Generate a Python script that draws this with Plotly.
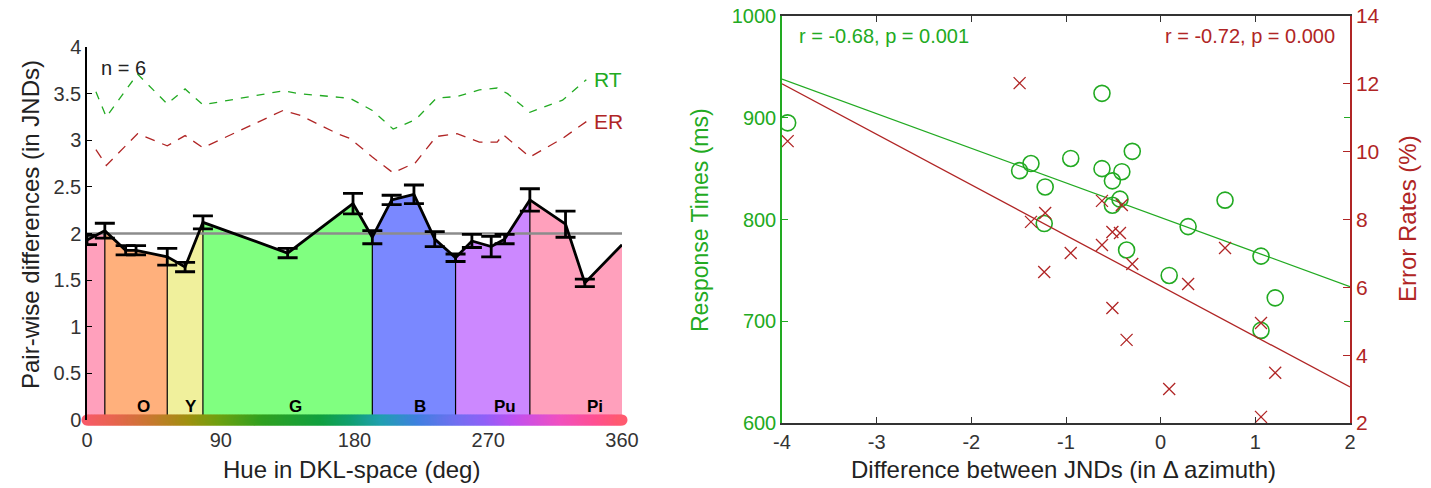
import numpy as np
import plotly.graph_objects as go

# ---------------- left panel: pair-wise differences along hue ----------------
hue_deg = [0, 12, 26, 33, 54, 66, 78, 135, 179, 192, 205, 220, 234, 248, 259, 272, 281, 298, 322, 335, 360]
pair_diff = [1.93, 2.03, 1.82, 1.82, 1.75, 1.64, 2.12, 1.79, 2.32, 1.96, 2.36, 2.42, 1.94, 1.74, 1.92, 1.86, 1.94, 2.36, 2.10, 1.47, 1.88]
pair_err = [0.05, 0.08, 0.05, 0.05, 0.09, 0.05, 0.07, 0.05, 0.11, 0.07, 0.05, 0.10, 0.08, 0.04, 0.07, 0.11, 0.05, 0.12, 0.14, 0.04]

rt_hue = [6, 13, 34, 54, 66, 78, 132, 143, 170, 177, 192, 206, 221, 235, 249, 264, 276, 283, 298, 320, 336]
rt_level = [3.52, 3.25, 3.71, 3.39, 3.55, 3.38, 3.53, 3.50, 3.46, 3.45, 3.32, 3.12, 3.22, 3.45, 3.47, 3.54, 3.56, 3.50, 3.30, 3.43, 3.65]
er_hue = [6, 13, 34, 54, 66, 78, 132, 143, 170, 177, 192, 206, 221, 235, 249, 264, 276, 280, 298, 320, 336]
er_level = [2.90, 2.73, 3.07, 2.94, 3.05, 2.92, 3.32, 3.27, 3.06, 3.02, 2.82, 2.65, 2.76, 3.04, 3.07, 2.98, 2.98, 3.06, 2.82, 3.02, 3.20]

category_edges = [0, 12, 54, 78, 192, 248, 298, 360]
category_fill = ["#ffa0bc", "#ffb07c", "#f0f09c", "#80ff80", "#7a88ff", "#cc88ff", "#ffa0bc"]
category_names = ["O", "Y", "G", "B", "Pu", "Pi"]
category_label_hue = [38, 70, 140, 224, 281, 342]
reference_level = 2.0

# hue colour strip along the x axis
strip_hue = [0, 20, 45, 70, 90, 120, 160, 180, 200, 225, 250, 270, 290, 320, 345, 360]
strip_color = ["#f85a6a", "#e86450", "#c87830", "#a09010", "#70a010", "#30a020", "#10a040",
               "#10a070", "#20a0b0", "#4080e0", "#7070f0", "#9060f8", "#c050f0", "#f050c0",
               "#ff5090", "#ff5a70"]

# ---------------- right panel: JND difference vs RT / error rate ----------------
jnd_diff = [-3.94, -1.49, -1.37, -1.22, -1.23, -0.95, -0.62, -0.62, -0.51, -0.51,
            -0.43, -0.41, -0.36, -0.30, 0.09, 0.29, 0.68, 1.06, 1.06, 1.21]
resp_time = [895, 848, 855, 832, 796, 860, 924, 850, 838, 814,
             820, 847, 770, 867, 745, 793, 819, 764, 691, 723]
error_rate = [10.31, 12.02, 7.93, 8.19, 6.45, 7.01, 8.55, 7.25, 7.63, 5.39,
              7.60, 8.43, 4.45, 6.69, 3.00, 6.10, 7.16, 4.95, 2.18, 3.48]
rt_fit = (802.0, -34.0)     # intercept, slope
er_fit = (6.04, -1.49)
fit_x = [-4, 2]

GREEN = "#22aa22"
RED = "#b02525"
FONT = "Liberation Sans, Arial, sans-serif"
W, H = 1431, 488

fig = go.Figure()

# category fills under the curve
for i in range(len(category_fill)):
    a, b = category_edges[i], category_edges[i + 1]
    inner = [(h, v) for h, v in zip(hue_deg, pair_diff) if a < h < b]
    xs = [a] + [p[0] for p in inner] + [b, b, a]
    ys = [float(np.interp(a, hue_deg, pair_diff))] + [p[1] for p in inner] + \
         [float(np.interp(b, hue_deg, pair_diff)), 0, 0]
    fig.add_trace(go.Scatter(x=xs, y=ys, mode="lines", fill="toself",
                             fillcolor=category_fill[i], line=dict(width=0),
                             hoverinfo="skip", showlegend=False))

# boundary lines between categories
bx, by = [], []
for e in category_edges[1:-1]:
    bx += [e, e, None]
    by += [0, float(np.interp(e, hue_deg, pair_diff)), None]
fig.add_trace(go.Scatter(x=bx, y=by, mode="lines", line=dict(color="black", width=1.2),
                         showlegend=False))

# reference level
fig.add_trace(go.Scatter(x=[0, 360], y=[reference_level, reference_level], mode="lines",
                         line=dict(color="#8c8c8c", width=2.5), showlegend=False))

# RT / ER profiles
fig.add_trace(go.Scatter(x=rt_hue, y=rt_level, mode="lines",
                         line=dict(color=GREEN, width=1.3, dash="8px,8px"), showlegend=False))
fig.add_trace(go.Scatter(x=er_hue, y=er_level, mode="lines",
                         line=dict(color=RED, width=1.3, dash="10px,8px"), showlegend=False))

# mean curve and error bars
fig.add_trace(go.Scatter(x=hue_deg, y=pair_diff, mode="lines",
                         line=dict(color="black", width=2.8), showlegend=False))
fig.add_trace(go.Scatter(x=hue_deg[:len(pair_err)], y=pair_diff[:len(pair_err)], mode="markers",
                         marker=dict(size=2, color="rgba(0,0,0,0)"),
                         error_y=dict(type="data", array=pair_err, color="black",
                                      thickness=2.8, width=10),
                         showlegend=False))

# hue strip
strip_x = np.arange(0, 361, 1)
strip_scale = [[h / 360, c] for h, c in zip(strip_hue, strip_color)]
fig.add_trace(go.Scatter(x=strip_x, y=np.zeros_like(strip_x), mode="markers",
                         marker=dict(size=11, color=strip_x, colorscale=strip_scale,
                                     cmin=0, cmax=360, line=dict(width=0)),
                         cliponaxis=False, showlegend=False))

# right panel
fig.add_trace(go.Scatter(x=fit_x, y=[rt_fit[0] + rt_fit[1] * v for v in fit_x],
                         mode="lines", line=dict(color=GREEN, width=1.3),
                         xaxis="x2", yaxis="y2", showlegend=False))
fig.add_trace(go.Scatter(x=fit_x, y=[er_fit[0] + er_fit[1] * v for v in fit_x],
                         mode="lines", line=dict(color=RED, width=1.3),
                         xaxis="x2", yaxis="y3", showlegend=False))
fig.add_trace(go.Scatter(x=jnd_diff, y=resp_time, mode="markers",
                         marker=dict(symbol="circle-open", size=16, color=GREEN,
                                     line=dict(width=1.6, color=GREEN)),
                         xaxis="x2", yaxis="y2", showlegend=False))
fig.add_trace(go.Scatter(x=jnd_diff, y=error_rate, mode="markers",
                         marker=dict(symbol="x-thin-open", size=12, color=RED,
                                     line=dict(width=1.3, color=RED)),
                         xaxis="x2", yaxis="y3", showlegend=False))

tick_font = dict(family=FONT, size=20, color="#333333")

fig.update_layout(
    width=W, height=H,
    margin=dict(l=0, r=0, t=0, b=0, autoexpand=False),
    paper_bgcolor="white", plot_bgcolor="rgba(0,0,0,0)",
    font=dict(family=FONT),
    xaxis=dict(domain=[87 / W, 622 / W], range=[0, 360], tickvals=[0, 90, 180, 270, 360],
               showline=False, showgrid=False, zeroline=False, ticks="",
               ticklabelstandoff=6, tickfont=tick_font, anchor="y", automargin=False),
    yaxis=dict(domain=[(H - 420) / H, (H - 47) / H], range=[0, 4],
               tickvals=[0, 0.5, 1, 1.5, 2, 2.5, 3, 3.5, 4],
               ticktext=["0", "0.5", "1", "1.5", "2", "2.5", "3", "3.5", "4"],
               showline=True, linecolor="black", linewidth=1.5, ticks="inside",
               ticklen=5, tickcolor="black", showgrid=False, zeroline=False,
               tickfont=tick_font, anchor="x", automargin=False),
    xaxis2=dict(domain=[782 / W, 1350 / W], range=[-4, 2], tickvals=[-4, -3, -2, -1, 0, 1, 2],
                ticktext=["-4", "-3", "-2", "-1", "0", "1", "2"],
                showline=True, mirror="ticks", linecolor="#333333", linewidth=1.5,
                ticks="inside", ticklen=6, tickcolor="#333333",
                showgrid=False, zeroline=False, tickfont=tick_font, anchor="y2",
                automargin=False),
    yaxis2=dict(domain=[(H - 423) / H, (H - 16) / H], range=[600, 1000],
                tickvals=[600, 700, 800, 900, 1000],
                showline=True, mirror="ticks", linecolor=GREEN, linewidth=1.5,
                ticks="inside", ticklen=6, tickcolor=GREEN, showgrid=False, zeroline=False,
                tickfont=dict(family=FONT, size=20, color=GREEN), anchor="x2",
                automargin=False),
    yaxis3=dict(range=[2, 14], tickvals=[2, 4, 6, 8, 10, 12, 14], overlaying="y2",
                side="right", anchor="x2",
                showline=True, linecolor=RED, linewidth=1.5,
                ticks="inside", ticklen=7, tickcolor=RED, showgrid=False, zeroline=False,
                tickfont=dict(family=FONT, size=21, color=RED), automargin=False),
)

ann = [
    # left panel texts
    dict(text="Pair-wise differences (in JNDs)", x=30 / W, y=(H - 225) / H, textangle=-90,
         font=dict(size=24, color="#222222")),
    dict(text="Hue in DKL-space (deg)", x=351 / W, y=(H - 469) / H,
         font=dict(size=24, color="#222222")),
    # right panel titles
    dict(text="Response Times (ms)", x=700 / W, y=(H - 220) / H, textangle=-90,
         font=dict(size=23, color=GREEN)),
    dict(text="Error Rates (%)", x=1407 / W, y=(H - 219) / H, textangle=-90,
         font=dict(size=24, color=RED)),
    dict(text="Difference between JNDs (in \u0394 azimuth)", x=1063 / W, y=(H - 469) / H,
         font=dict(size=24, color="#222222")),
    dict(text="r = -0.68, p = 0.001", x=797 / W, y=(H - 36) / H, xanchor="left",
         font=dict(size=20, color=GREEN)),
    dict(text="r = -0.72, p = 0.000", x=1337 / W, y=(H - 36) / H, xanchor="right",
         font=dict(size=20, color=RED)),
]
for a in ann:
    a.setdefault("xanchor", "center")
    a.update(xref="paper", yref="paper", yanchor="middle", showarrow=False)
    a["font"]["family"] = FONT

data_ann = [
    dict(text="n = 6", x=8, y=3.77, xanchor="left", font=dict(size=20, color="#222222")),
    dict(text="RT", x=340, y=3.65, xanchor="left", font=dict(size=21, color=GREEN)),
    dict(text="ER", x=340, y=3.2, xanchor="left", font=dict(size=21, color=RED)),
]
for name, h in zip(category_names, category_label_hue):
    data_ann.append(dict(text="<b>%s</b>" % name, x=h, y=0.14, xanchor="center",
                         font=dict(size=17, color="black")))
for a in data_ann:
    a.update(xref="x", yref="y", yanchor="middle", showarrow=False)
    a["font"]["family"] = FONT

fig.update_layout(annotations=ann + data_ann)

fig.write_html("out.html")
